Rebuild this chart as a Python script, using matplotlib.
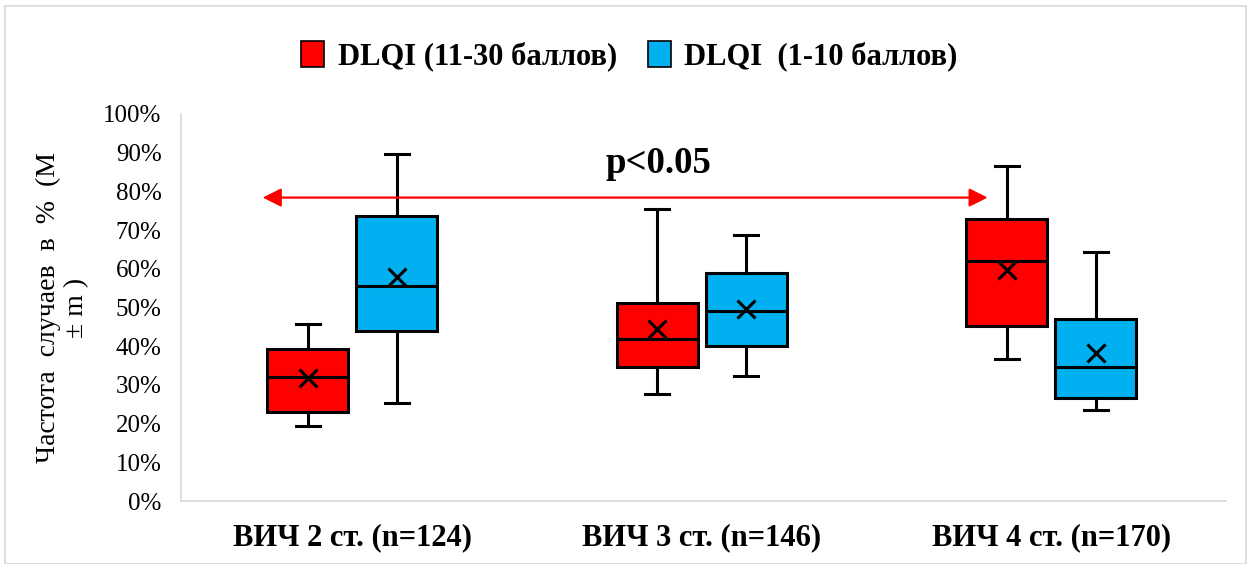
import matplotlib.pyplot as plt
from matplotlib.patches import Patch, Rectangle

# box statistics, % of cases
categories = ['ВИЧ 2 ст. (n=124)', 'ВИЧ 3 ст. (n=146)', 'ВИЧ 4 ст. (n=170)']
series = ['DLQI (11-30 баллов)', 'DLQI  (1-10 баллов)']

high_whislo = [19.5, 27.6, 36.6]
high_q1 = [23.1, 34.5, 45.3]
high_med = [32.0, 41.8, 61.9]
high_mean = [31.8, 44.4, 59.7]
high_q3 = [39.2, 51.2, 72.9]
high_whishi = [45.7, 75.5, 86.6]

low_whislo = [25.4, 32.4, 23.5]
low_q1 = [44.0, 40.0, 26.6]
low_med = [55.6, 49.0, 34.7]
low_mean = [58.0, 49.6, 38.3]
low_q3 = [73.7, 58.9, 47.1]
low_whishi = [89.6, 68.7, 64.3]

yticks = list(range(0, 101, 10))

RED = '#ff0000'
BLUE = '#00b0f0'


def make_stats(lo, q1, med, mean, q3, hi):
    return [dict(whislo=a, q1=b, med=c, mean=d, q3=e, whishi=f, fliers=[])
            for a, b, c, d, e, f in zip(lo, q1, med, mean, q3, hi)]


plt.rcParams['font.family'] = ['Liberation Serif', 'DejaVu Serif']

fig = plt.figure(figsize=(12.54, 5.64), dpi=100)
ax = fig.add_axes([0.1443, 0.1117, 0.8334, 0.6862])

# light frame around the whole chart
fig.patches.append(Rectangle((0.004, 0.0), 0.99, 0.989, transform=fig.transFigure,
                             fill=False, edgecolor='#d9d9d9', linewidth=1.2))

offset = 0.1275
width = 0.232
groups = [
    (make_stats(high_whislo, high_q1, high_med, high_mean, high_q3, high_whishi), -offset, RED),
    (make_stats(low_whislo, low_q1, low_med, low_mean, low_q3, low_whishi), offset, BLUE),
]
for stats, dx, color in groups:
    pos = [i + dx for i in range(len(categories))]
    ax.bxp(stats, positions=pos, widths=width, showmeans=True, showfliers=False,
           patch_artist=True,
           boxprops=dict(facecolor=color, edgecolor='black', linewidth=2.2),
           medianprops=dict(color='black', linewidth=2.2),
           whiskerprops=dict(color='black', linewidth=2.2),
           capprops=dict(color='black', linewidth=2.2),
           capwidths=0.068,
           meanprops=dict(marker='x', markeredgecolor='black', markersize=13,
                          markeredgewidth=2.2))

ax.set_xlim(-0.49, 2.5)
ax.set_ylim(0, 100)
ax.set_xticks(range(len(categories)))
ax.set_xticklabels(categories, fontsize=22, fontweight='bold')
ax.set_yticks(yticks)
ax.set_yticklabels([f'{v}%' for v in yticks], fontsize=18)
ax.tick_params(length=0)
ax.tick_params(axis='x', pad=16)
ax.tick_params(axis='y', pad=14)
for side in ['top', 'right']:
    ax.spines[side].set_visible(False)
for side in ['left', 'bottom']:
    ax.spines[side].set_color('#d9d9d9')
    ax.spines[side].set_linewidth(1.2)

ax.set_ylabel('Частота  случаев  в  %  (M\n± m )', fontsize=20, labelpad=10,
              linespacing=1.15)

# significance arrow between stage 2 and stage 4
ax.annotate('', xy=(1.818, 78.4), xytext=(-0.256, 78.4),
            arrowprops=dict(arrowstyle='<|-|>', color=RED, lw=1.6,
                            mutation_scale=28, shrinkA=0, shrinkB=0))
ax.text(0.875, 87.3, 'p<0.05', fontsize=26.5, fontweight='bold',
        ha='center', va='center')

handles = [Patch(facecolor=RED, edgecolor='black', linewidth=1.2),
           Patch(facecolor=BLUE, edgecolor='black', linewidth=1.2)]
fig.legend(handles, series, loc='center', bbox_to_anchor=(0.502, 0.9), ncol=2,
           frameon=False, prop=dict(size=22, weight='bold'),
           handlelength=0.75, handleheight=0.9, handletextpad=0.45, columnspacing=1.0)

fig.savefig('out.png', dpi=100)
